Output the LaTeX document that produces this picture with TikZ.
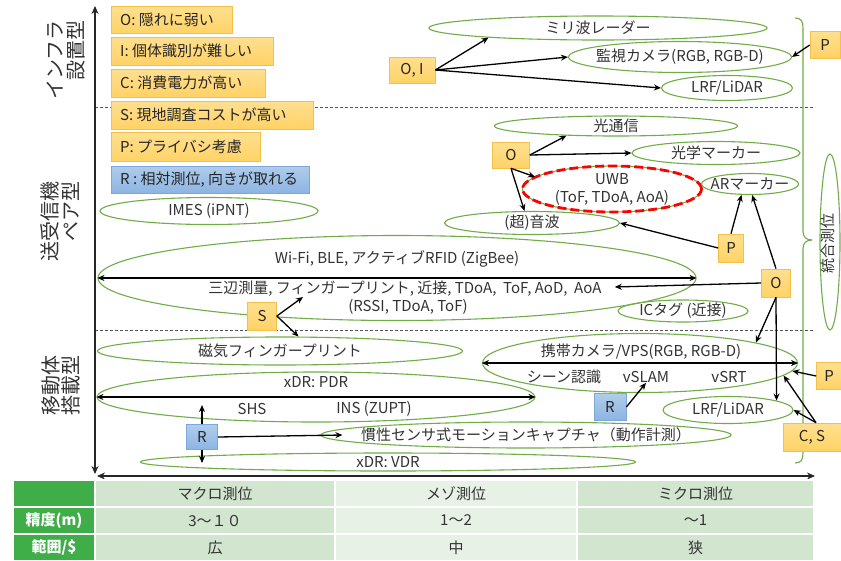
\documentclass[tikz,border=0pt]{standalone}
\usepackage{fontspec}
\setmainfont{Noto Sans CJK JP}
\usetikzlibrary{shapes.geometric,arrows.meta,calc}
\definecolor{grn}{HTML}{70AD47}
\definecolor{txtc}{HTML}{333333}
\definecolor{otop}{HTML}{FFE08F}
\definecolor{obot}{HTML}{FFD266}
\definecolor{obord}{HTML}{F4C04A}
\definecolor{btop}{HTML}{AFCDEB}
\definecolor{bbot}{HTML}{8DB4E2}
\definecolor{bbord}{HTML}{7EA6D8}
\definecolor{tdark}{HTML}{3FAE49}
\definecolor{tlight}{HTML}{D2E5CF}
\definecolor{tmid}{HTML}{E8F1E6}
\definecolor{sepc}{HTML}{555555}
\newcommand\ellip[5]{%
  \node[ell, minimum width=#3pt, minimum height=#4pt] (#1) at (#2) {};
  \node[lbl] (#1-t) at (#1.center) {#5};}
\begin{document}
\begin{tikzpicture}[x=1pt,y=-1pt,
  ell/.style={ellipse, draw=grn, line width=1.1pt, inner sep=0pt},
  lbl/.style={text=txtc, font=\fontsize{15}{18}\selectfont, inner sep=0pt, align=center},
  legtxt/.style={text=black!85, font=\fontsize{15}{18}\selectfont, inner sep=0pt, anchor=west},
  obox/.style={rectangle, draw=obord, line width=0.7pt, top color=otop, bottom color=obot, inner sep=0pt,
    text=black!85, font=\fontsize{15}{18}\selectfont},
  bbox/.style={rectangle, draw=bbord, line width=0.7pt, top color=btop, bottom color=bbot, inner sep=0pt,
    text=black!85, font=\fontsize{15}{18}\selectfont},
  conn/.style={-{Stealth[length=7pt,width=6pt]}, line width=1.3pt, black},
  dconn/.style={{Stealth[length=7pt,width=6pt]}-{Stealth[length=7pt,width=6pt]}, line width=1.3pt, black},
  axis/.style={{Stealth[length=8pt,width=7pt]}-{Stealth[length=8pt,width=7pt]}, line width=1.8pt, black!85},
  sepline/.style={draw=sepc, line width=0.9pt, dash pattern=on 3pt off 2pt},
  sidelbl/.style={rotate=90, align=right, text=txtc, font=\fontsize{20}{20.5}\selectfont, inner sep=0pt},
  cell/.style={rectangle, draw=white, line width=1.6pt, minimum height=27pt, inner sep=0pt,
    text=txtc, font=\fontsize{15}{18}\selectfont},
  hcell/.style={cell, fill=tdark, text=white, font=\fontsize{15}{18}\selectfont\bfseries},
]
\useasboundingbox (0,0) rectangle (841,560);
\fill[white] (0,0) rectangle (841,560);

% layer separators
\coordinate (d1a) at (95,107); \coordinate (d1b) at (815,107);
\coordinate (d2a) at (95,330); \coordinate (d2b) at (815,330);
\draw[sepline] (d1a) -- (d1b);
\draw[sepline] (d2a) -- (d2b);

% axes
\coordinate (axT) at (95,6);
\coordinate (axB) at (95,474);
\coordinate (axL) at (97,476);
\coordinate (axR) at (815,476);
\draw[axis] (axT) -- (axB);
\draw[axis] (axL) -- (axR);

% layer names
\node[sidelbl] (lyInfra) at (66,60) {インフラ\\設置型};
\node[sidelbl] (lyPair) at (60,221) {送受信機\\ペア型};
\node[sidelbl] (lyMob) at (61,385) {移動体\\搭載型};

% brace for integrated positioning
\draw[grn, line width=1.1pt] (795,18) .. controls (801,18) and (803,21) .. (803,28) -- (803,231)
  .. controls (803,237) and (806,240) .. (812,240);
\draw[grn, line width=1.1pt] (812,240) .. controls (806,240) and (803,243) .. (803,249) -- (803,453)
  .. controls (803,460) and (801,463) .. (795,463);
\node[ell, minimum width=20pt, minimum height=176pt] (togo) at (830,242) {};
\node[lbl, rotate=90] (togo-t) at (828,243) {統合測位};

% technologies
\ellip{mmw}{598,28}{338}{24}{ミリ波レーダー}
\ellip{cam}{680,57}{223}{31}{監視カメラ(RGB, RGB-D)}
\ellip{lrfA}{727,88}{131}{25}{LRF/LiDAR}
\ellip{opt}{616,126}{243}{20}{光通信}
\ellip{omk}{716,153}{168}{23}{光学マーカー}
\node[ell, minimum width=179pt, minimum height=46pt,
  postaction={draw=red, line width=2.8pt, dash pattern=on 9pt off 4pt}] (uwb) at (612,189) {};
\node[lbl, font=\fontsize{15}{18}\selectfont] (uwb-t) at (uwb.center) {UWB\\(ToF, TDoA, AoA)};
\ellip{arm}{750,184}{97}{21}{ARマーカー}
\ellip{snd}{532,223}{175}{23}{(超)音波}
\ellip{imes}{209,211}{218}{27}{IMES (iPNT)}
\ellip{ictag}{683,311}{130}{22}{ICタグ (近接)}
\ellip{mag}{280,351}{365}{28}{磁気フィンガープリント}
\ellip{mocap}{526,435}{410}{26}{慣性センサ式モーションキャプチャ（動作計測）}
\ellip{vdr}{388,462}{495}{18}{xDR: VDR}
\ellip{lrfB}{728,410}{130}{27}{LRF/LiDAR}

\node[ell, minimum width=598pt, minimum height=85pt] (wifi) at (397,278) {};
\node[lbl] (wl1) at (397,259) {Wi-Fi, BLE, アクティブRFID (ZigBee)};
\node[lbl] (wl2) at (405,289) {三辺測量, フィンガープリント, 近接, TDoA,\ \ ToF, AoD,\ \ AoA};
\node[lbl] (wl3) at (408,307) {(RSSI, TDoA, ToF)};

\node[ell, minimum width=438pt, minimum height=50pt] (pdr) at (316,397) {};
\node[lbl] (pdr1) at (316,382) {xDR: PDR};
\node[lbl] (shs) at (252,409) {SHS};
\node[lbl] (ins) at (374,409) {INS (ZUPT)};

\node[ell, minimum width=315pt, minimum height=59pt] (phone) at (640,363) {};
\node[lbl] (ph1) at (641,352) {携帯カメラ/VPS(RGB, RGB-D)};
\node[lbl] (scene) at (564,377) {シーン認識};
\node[lbl] (vslam) at (646,377) {vSLAM};
\node[lbl] (vsrt) at (729,377) {vSRT};

\draw[dconn] (wifi.west) -- (wifi.east);
\draw[dconn] (pdr.west) -- (pdr.east);
\draw[dconn] (phone.west) -- (phone.east);

% legend
\node[obox, anchor=west, minimum width=121pt, minimum height=27pt] (lgO) at (111,19.5) {};
\node[legtxt] (lgO-t) at (120,19.5) {O: 隠れに弱い};
\node[obox, anchor=west, minimum width=162pt, minimum height=28pt] (lgI) at (111,51) {};
\node[legtxt] (lgI-t) at (120,51) {I: 個体識別が難しい};
\node[obox, anchor=west, minimum width=154pt, minimum height=28pt] (lgC) at (111,83) {};
\node[legtxt] (lgC-t) at (120,83) {C: 消費電力が高い};
\node[obox, anchor=west, minimum width=202pt, minimum height=28pt] (lgS) at (111,115) {};
\node[legtxt] (lgS-t) at (120,115) {S: 現地調査コストが高い};
\node[obox, anchor=west, minimum width=149pt, minimum height=29pt] (lgP) at (111,147) {};
\node[legtxt] (lgP-t) at (120,147) {P: プライバシ考慮};
\node[bbox, anchor=west, minimum width=198pt, minimum height=27pt] (lgR) at (111,179.5) {};
\node[legtxt] (lgR-t) at (120,179.5) {R : 相対測位, 向きが取れる};

% weakness tags
\node[obox, minimum width=46pt, minimum height=26pt] (OI) at (412,70) {O, I};
\node[obox, minimum width=30pt, minimum height=27pt] (P1) at (825,45) {P};
\node[obox, minimum width=37pt, minimum height=26pt] (Om) at (511,155) {O};
\node[obox, minimum width=25pt, minimum height=28pt] (Pm) at (731,248) {P};
\node[obox, minimum width=29pt, minimum height=28pt] (Or) at (776,283) {O};
\node[obox, minimum width=29pt, minimum height=28pt] (S) at (262,316) {S};
\node[bbox, minimum width=31pt, minimum height=25pt] (Rl) at (202,437) {R};
\node[bbox, minimum width=32pt, minimum height=27pt] (Rr) at (610,407) {R};
\node[obox, minimum width=25pt, minimum height=27pt] (Pb) at (829,376) {P};
\node[obox, minimum width=58pt, minimum height=28pt] (CS) at (812,437) {C, S};

% free arrow ends
\coordinate (sTip) at (303,297);
\coordinate (rUp) at (202,405);
\coordinate (rDn) at (202,463);

% connectors
\draw[conn] (OI.east) -- (mmw.185);
\draw[conn] (OI.east) -- (cam.west);
\draw[conn] (OI.east) -- (lrfA.west);
\draw[conn] (P1.west) -- (cam.east);
\draw[conn] (Om.east) -- (opt.191);
\draw[conn] (Om.east) -- (omk.west);
\draw[conn] (Om.south) -- (uwb.171);
\draw[conn] (Om.south) -- (snd.122);
\draw[conn] (Pm.west) -- (snd.east);
\draw[conn] (Pm.north) -- (arm.232);
\draw[conn] (Or.north) -- (arm.281);
\draw[conn] (Or.west) -- ([xshift=13pt,yshift=2pt]wl2.east);
\draw[conn] (Or.south) -- (phone.10);
\draw[conn] (Or.south) -- (lrfB.11);
\draw[conn] (Pb.west) -- (phone.-3);
\draw[conn] ([xshift=4pt]CS.north) -- (phone.-5);
\draw[conn] ([xshift=4pt]CS.north) -- (lrfB.east);
\draw[conn] (S.east) -- (sTip);
\draw[conn] (S.east) -- (mag.38);
\draw[conn] (Rl.north) -- (rUp);
\draw[conn] (Rl.south) -- (rDn);
\draw[conn] (Rl.east) -- ([xshift=22pt]mocap.west);
\draw[conn] (Rr.east) -- (vslam.south);

% accuracy table
\node[hcell, minimum width=82pt] (t00) at (54,493.5) {};
\node[cell, fill=tlight, minimum width=240pt] (t01) at (215,493.5) {マクロ測位};
\node[cell, fill=tmid, minimum width=242pt] (t02) at (456,493.5) {メゾ測位};
\node[cell, fill=tlight, minimum width=237pt] (t03) at (695.5,493.5) {ミクロ測位};
\node[hcell, minimum width=82pt] (t10) at (54,520.5) {精度(m)};
\node[cell, fill=tlight, minimum width=240pt] (t11) at (215,520.5) {3～１０};
\node[cell, fill=tmid, minimum width=242pt] (t12) at (456,520.5) {1～2};
\node[cell, fill=tlight, minimum width=237pt] (t13) at (695.5,520.5) {～1};
\node[hcell, minimum width=82pt] (t20) at (54,547.5) {範囲/\$};
\node[cell, fill=tlight, minimum width=240pt] (t21) at (215,547.5) {広};
\node[cell, fill=tmid, minimum width=242pt] (t22) at (456,547.5) {中};
\node[cell, fill=tlight, minimum width=237pt] (t23) at (695.5,547.5) {狭};
\end{tikzpicture}
\end{document}
